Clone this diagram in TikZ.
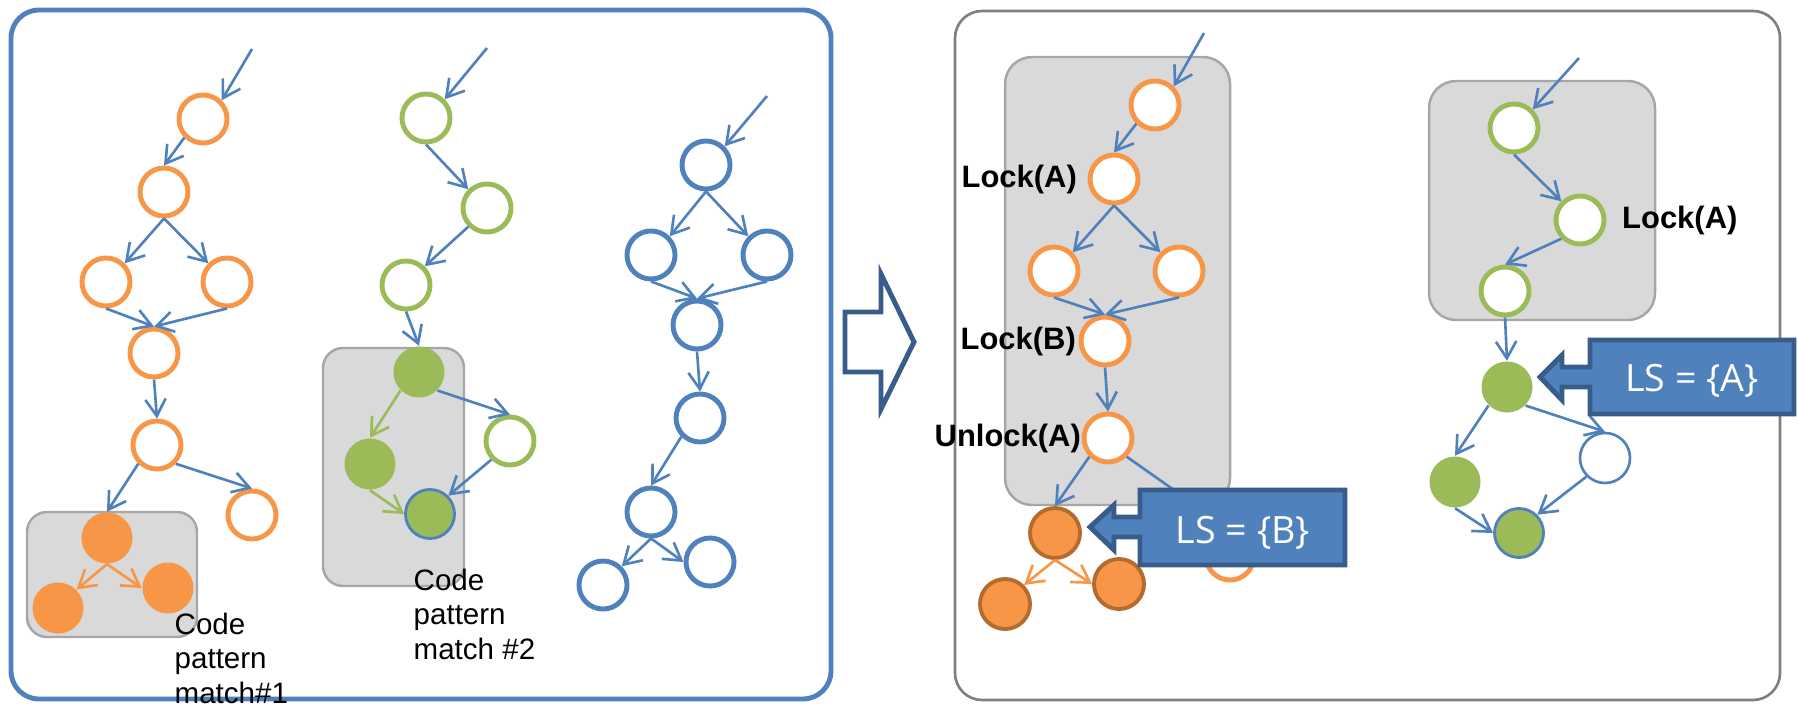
\documentclass[tikz,border=0pt]{standalone}
\usepackage{fontspec}
\setmainfont{Liberation Sans}
\newfontfamily\lsfont{Open Sans}
\usetikzlibrary{arrows.meta,positioning}

\definecolor{ornge}{HTML}{F79646}
\definecolor{dkornge}{HTML}{B46C2E}
\definecolor{grn}{HTML}{9BBB59}
\definecolor{blu}{HTML}{4F81BD}
\definecolor{dkblu}{HTML}{385D8A}
\definecolor{boxgray}{HTML}{D9D9D9}
\definecolor{boxline}{HTML}{A6A6A6}
\definecolor{panelgray}{HTML}{7F7F7F}

\tikzset{
  arr/.style = {draw=blu, line width=0.75pt, -{Straight Barb[length=4.8pt,width=5.8pt]}},
  oarr/.style = {arr, draw=ornge},
  garr/.style = {arr, draw=grn},
  ring/.style = {circle, draw, fill=white, line width=1.4pt, minimum size=0.48cm, inner sep=0pt},
  onode/.style = {ring, draw=ornge},
  gnode/.style = {ring, draw=grn},
  bnode/.style = {ring, draw=blu},
  bthin/.style = {ring, draw=blu, line width=0.75pt, minimum size=0.5cm},
  ofill/.style = {circle, fill=ornge, minimum size=0.51cm, inner sep=0pt},
  gfill/.style = {circle, fill=grn, minimum size=0.51cm, inner sep=0pt},
  gfillb/.style = {circle, fill=grn, draw=blu, line width=0.8pt, minimum size=0.49cm, inner sep=0pt},
  ofilld/.style = {circle, fill=ornge, draw=dkornge, line width=1.1pt, minimum size=0.5cm, inner sep=0pt},
  patch/.style = {fill=boxgray, draw=boxline, line width=0.7pt},
  note/.style = {inner sep=0pt, align=left, font=\fontsize{8.4pt}{9.9pt}\selectfont},
  lbl/.style = {inner sep=0pt, font=\fontsize{8.8pt}{10pt}\selectfont\bfseries},
  callout/.style = {fill=blu, draw=dkblu, line width=1.4pt},
  lstext/.style = {inner sep=0pt, text=white, font=\lsfont\fontsize{10.7pt}{12pt}\selectfont}
}

\begin{document}
\begin{tikzpicture}[x=0.01cm, y=-0.01cm]
\useasboundingbox (0,0) rectangle (1798,706);

% panels
\draw[blu, line width=1.4pt, rounded corners=0.28cm] (11,10) rectangle (831,699);
\draw[panelgray, line width=0.75pt, rounded corners=0.27cm] (955,11) rectangle (1780,700);

% big hollow arrow
\draw[dkblu, fill=white, line width=1.4pt] (845,312) -- (881,312) -- (881,274) -- (914,342)
  -- (881,409) -- (881,372) -- (845,372) -- cycle;

% gray pattern boxes
\draw[patch, rounded corners=0.2cm] (27,512) rectangle (197,637);
\draw[patch, rounded corners=0.2cm] (323,348) rectangle (464,586);
\draw[patch, rounded corners=0.27cm] (1005,57) rectangle (1230,505);
\draw[patch, rounded corners=0.27cm] (1429,81) rectangle (1655,320);

%% left panel: orange graph
\coordinate (oin) at (252,49);
\node[onode] (O1) at (203,119) {};
\node[onode] (O2) at (164,192) {};
\node[onode] (O3) at (106,282) {};
\node[onode] (O4) at (227,282) {};
\node[onode] (O5) at (154,353) {};
\node[onode] (O6) at (157,445) {};
\node[onode] (O7) at (252,515) {};
\node[ofill] (F1) at (107,538) {};
\node[ofill] (F2) at (58,608) {};
\node[ofill] (F3) at (168,588) {};
\draw[arr] (oin) -- (O1.north east);
\draw[arr] (O1.south west) -- (O2.north);
\draw[arr] (O2.south) -- (O3.north east);
\draw[arr] (O2.south) -- (O4.north west);
\draw[arr] (O3.south) -- (O5.north);
\draw[arr] (O4.south) -- (O5.north);
\draw[arr] (O5.south) -- (O6.north);
\draw[arr] (O6.south west) -- (F1.north);
\draw[arr] (O6.south east) -- (O7.north);
\draw[oarr] (F1.south) -- (F2.north east);
\draw[oarr] (F1.south) -- (F3.west);
\node[note, anchor=north west] (cpm1) at (174,612) {Code\\pattern\\match\#1};

%% left panel: green graph
\coordinate (gin) at (487,48);
\node[gnode] (G1) at (426,118) {};
\node[gnode] (G2) at (487,208) {};
\node[gnode] (G3) at (406,285) {};
\node[gfill] (GF1) at (419,372) {};
\node[gfill] (GF2) at (370,464) {};
\node[gfillb] (GF3) at (430,514) {};
\node[gnode] (G4) at (510,441) {};
\draw[arr] (gin) -- (G1.north east);
\draw[arr] (G1.south) -- (G2.north west);
\draw[arr] (G2.south west) -- (G3.north east);
\draw[arr] (G3.south) -- (GF1.north);
\draw[garr] (GF1.south west) -- (GF2.north);
\draw[garr] (GF2.south) -- (GF3.west);
\draw[arr] (GF1.south east) -- (G4.north);
\draw[arr] (G4.south west) -- (GF3.north east);
\node[note, anchor=north west] (cpm2) at (413,568) {Code\\pattern\\match \#2};

%% left panel: blue graph
\coordinate (bin) at (767,96);
\node[bnode] (B1) at (706,165) {};
\node[bnode] (B2) at (651,255) {};
\node[bnode] (B3) at (767,255) {};
\node[bnode] (B4) at (697,325) {};
\node[bnode] (B5) at (700,418) {};
\node[bnode] (B6) at (651,512) {};
\node[bnode] (B7) at (603,585) {};
\node[bnode] (B8) at (710,562) {};
\draw[arr] (bin) -- (B1.north east);
\draw[arr] (B1.south) -- (B2.north east);
\draw[arr] (B1.south) -- (B3.north west);
\draw[arr] (B2.south) -- (B4.north);
\draw[arr] (B3.south) -- (B4.north);
\draw[arr] (B4.south) -- (B5.north);
\draw[arr] (B5.south west) -- (B6.north);
\draw[arr] (B6.south) -- (B7.north east);
\draw[arr] (B6.south) -- (B8.west);

%% right panel: orange graph with locks
\coordinate (rin) at (1204,33);
\node[onode] (R1) at (1155,105) {};
\node[onode] (R2) at (1114,179) {};
\node[onode] (R3) at (1054,271) {};
\node[onode] (R4) at (1179,271) {};
\node[onode] (R5) at (1105,341) {};
\node[onode] (R6) at (1108,438) {};
\node[onode] (R7) at (1230,556) {};
\node[ofilld] (RF1) at (1055,533) {};
\node[ofilld] (RF2) at (1005,604) {};
\node[ofilld] (RF3) at (1119,584) {};
\draw[arr] (rin) -- (R1.north east);
\draw[arr] (R1.south west) -- (R2.north);
\draw[arr] (R2.south) -- (R3.north east);
\draw[arr] (R2.south) -- (R4.north west);
\draw[arr] (R3.south) -- (R5.north);
\draw[arr] (R4.south) -- (R5.north);
\draw[arr] (R5.south) -- (R6.north);
\draw[arr] (R6.south west) -- (RF1.north);
\draw[arr] (R6.south east) -- (R7.north);
\draw[oarr] (RF1.south) -- (RF2.north east);
\draw[oarr] (RF1.south) -- (RF3.west);
\node[lbl, left=0.1cm of R2] (lockA) {Lock(A)};
\node[lbl, left=0.02cm of R5] (lockB) {Lock(B)};
\node[lbl, left=0cm of R6] (unlockA) {Unlock(A)};

%% right panel: green graph
\coordinate (rgin) at (1579,58);
\node[gnode] (RG1) at (1514,128) {};
\node[gnode] (RG2) at (1580,220) {};
\node[gnode] (RG3) at (1505,291) {};
\node[gfill] (RGF1) at (1507,387) {};
\node[gfill] (RGF2) at (1455,482) {};
\node[gfillb] (RGF3) at (1519,533) {};
\node[bthin] (RG4) at (1605,458) {};
\draw[arr] (rgin) -- (RG1.north east);
\draw[arr] (RG1.south) -- (RG2.north west);
\draw[arr] (RG2.south west) -- (RG3.north);
\draw[arr] (RG3.south) -- (RGF1.north);
\draw[arr] (RGF1.south west) -- (RGF2.north);
\draw[arr] (RGF1.south east) -- (RG4.north);
\draw[arr] (RGF2.south) -- (RGF3.west);
\draw[arr] (RG4.south west) -- (RGF3.north east);
\node[lbl, right=0.15cm of RG2] (lockA2) {Lock(A)};

%% lock-set callouts
\draw[callout] (1140,490) -- (1345,490) -- (1345,565) -- (1140,565) -- (1140,537) -- (1114,537)
  -- (1114,550) -- (1090,527) -- (1114,505) -- (1114,517) -- (1140,517) -- cycle;
\node[lstext, anchor=base] (lsB) at (1243,543) {LS = \{B\}};
\draw[callout] (1590,340) -- (1794,340) -- (1794,414) -- (1590,414) -- (1590,387) -- (1562,387)
  -- (1562,400) -- (1540,377) -- (1562,355) -- (1562,367) -- (1590,367) -- cycle;
\node[lstext, anchor=base] (lsA) at (1692,391) {LS = \{A\}};
\end{tikzpicture}
\end{document}
